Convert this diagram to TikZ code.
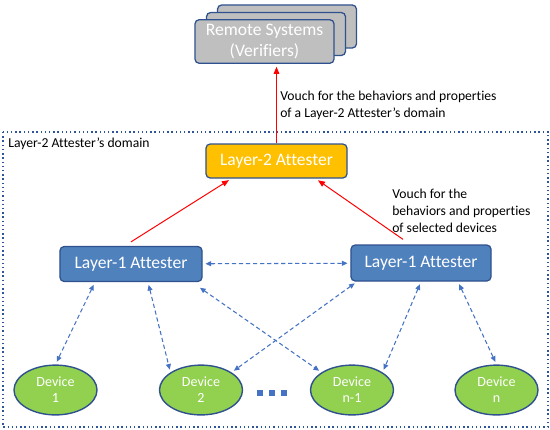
\documentclass[tikz,border=0pt]{standalone}
\usepackage{fontspec}
\setmainfont{Carlito}[Ligatures=NoCommon]
\usetikzlibrary{arrows.meta,calc,shapes.geometric}
\definecolor{boxedge}{HTML}{2F528F}
\definecolor{remotegray}{HTML}{BFBFBF}
\definecolor{attorange}{HTML}{FFC000}
\definecolor{attblue}{HTML}{4F81BD}
\definecolor{devgreen}{HTML}{92D050}
\definecolor{linkblue}{HTML}{4472C4}
\definecolor{domblue}{HTML}{2E5597}
\begin{document}
\begin{tikzpicture}[x=0.025cm, y=-0.025cm,
        remotebox/.style={draw=boxedge, line width=0.9pt, fill=remotegray, rounded corners=3pt, minimum width=3.475cm, minimum height=1.075cm, align=center, text=white, font=\fontsize{12.5}{14.5}\selectfont},
        attbox/.style={draw=boxedge, line width=0.9pt, rounded corners=3pt, align=center, text=white, font=\fontsize{12.5}{14}\selectfont},
        device/.style={draw=boxedge, line width=1pt, fill=devgreen, ellipse, minimum width=2.075cm, minimum height=1cm, align=center, text=white, font=\fontsize{10}{11.5}\selectfont},
        note/.style={align=left, font=\fontsize{9.7}{12}\selectfont, inner sep=0pt},
        vouch/.style={-{Triangle[length=5pt, width=4pt]}, red, line width=0.7pt, shorten >=2pt},
        link/.style={{Triangle[length=4pt, width=3.5pt]}-{Triangle[length=4pt, width=3.5pt]}, linkblue, dashed, dash pattern=on 3pt off 2pt, line width=0.75pt, shorten >=2pt, shorten <=2pt}]
        \useasboundingbox (0,0) rectangle (550,429);
        \draw[domblue, dotted, line width=1pt] (3,132) rectangle (548,427);
        \node [note, anchor=west] (domlabel) at (8,144) {Layer-2 Attester’s domain};

        \node [remotebox] (R3) at (287,26.5) {};
        \node [remotebox] (R2) at (276,34) {};
        \node [remotebox] (R1) at (264.5,41.5) {Remote Systems\\(Verifiers)};

        \node [attbox, fill=attorange, minimum width=3.525cm, minimum height=0.85cm] (L2) at (276.5,161) {Layer-2 Attester};
        \node [attbox, fill=attblue, minimum width=3.55cm, minimum height=0.875cm] (L1a) at (131,264) {Layer-1 Attester};
        \node [attbox, fill=attblue, minimum width=3.5cm, minimum height=0.9cm] (L1b) at (421,263) {Layer-1 Attester};

        \node [device] (D1) at (55.5,390) {Device\\1};
        \node [device] (D2) at (201,390) {Device\\2};
        \node [device] (Dn1) at (352,390) {Device\\n-1};
        \node [device] (Dn) at (496.5,390) {Device\\n};

        \foreach \dx in {260,272,284}
            \fill[linkblue] (\dx-3,390) rectangle (\dx+3,396);

        \node [note, anchor=west] (vouchtop) at (280,105.5) {Vouch for the behaviors and properties\\of a Layer-2 Attester’s domain};
        \node [note, anchor=west] (vouchside) at (392,211) {Vouch for the\\behaviors and properties\\of selected devices};

        \draw[vouch] (L2.north) -- (L2.north |- R1.south);
        \draw[vouch] ([yshift=0.1cm]L1a.north) -- ([xshift=0.65cm]L2.south west);
        \draw[vouch] ([xshift=-0.45cm, yshift=0.125cm]L1b.north) -- ([xshift=-0.8cm]L2.south east);

        \draw[link] (L1a) -- (L1b);
        \draw[link] ([xshift=-0.9cm]L1a.south) -- (D1.north);
        \draw[link] ([xshift=0.425cm]L1a.south) -- (D2.150);
        \draw[link] ([xshift=-0.125cm, yshift=-0.1cm]L1a.south east) -- (Dn1.150);
        \draw[link] ([xshift=-1.6cm]L1b.south) -- (D2.30);
        \draw[link] (L1b.south) -- (Dn1.30);
        \draw[link] ([xshift=0.925cm]L1b.south) -- (Dn.north);
    \end{tikzpicture}
\end{document}
